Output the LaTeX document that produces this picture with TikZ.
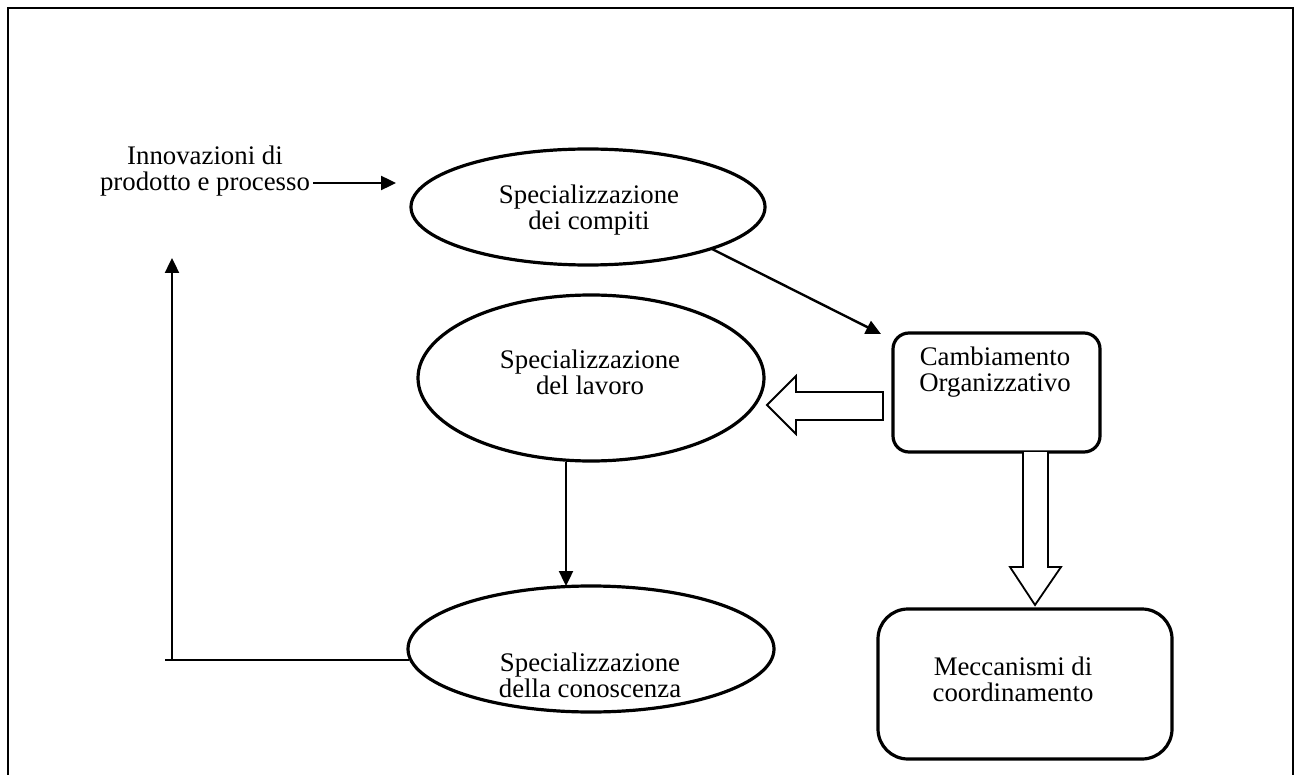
\documentclass[tikz,border=0pt]{standalone}
\usepackage{fontspec}
\setmainfont{Liberation Serif}
\usetikzlibrary{shapes.geometric,arrows.meta}
\begin{document}
\begin{tikzpicture}[x=0.5pt,y=-0.5pt,
  oval/.style={draw,ellipse,line width=1.6pt,inner sep=0pt},
  rbox/.style={draw,rectangle,line width=1.6pt,inner sep=0pt},
  lbl/.style={align=center,font=\fontsize{13.4}{13}\selectfont,inner sep=0pt},
  conn/.style={line width=1.2pt,-{Triangle[length=7.5pt,width=7pt]}},
  fat/.style={draw,line width=0.9pt,fill=white,line join=miter}]
\useasboundingbox (0,0) rectangle (1301,775);
% outer frame, open at the bottom
\draw[line width=1.2pt] (8,790) -- (8,8) -- (1293,8) -- (1293,790);

% ellipses
\node[oval,minimum width=177pt,minimum height=58pt] (e1) at (588,207) {};
\node[oval,minimum width=173pt,minimum height=83pt] (e2) at (591,378) {};
\node[oval,minimum width=183pt,minimum height=63pt] (e3) at (591,649) {};
% rounded boxes
\node[rbox,rounded corners=8pt,minimum width=103.5pt,minimum height=59.5pt] (b1) at (996.5,392.5) {};
\node[rbox,rounded corners=15pt,minimum width=147pt,minimum height=75pt] (b2) at (1025,684) {};

% labels
\node[lbl] (t1) at (589,210) {Specializzazione\\dei compiti};
\node[lbl] (t2) at (590,372) {Specializzazione\\del lavoro};
\node[lbl] (t3) at (590,675) {Specializzazione\\della conoscenza};
\node[lbl] (tb1) at (995,372) {Cambiamento\\Organizzativo};
\node[lbl] (tb2) at (1013,679) {Meccanismi di\\coordinamento};
\node[lbl] (innov) at (205,171) {Innovazioni di\\prodotto e processo};

% thin connectors
\coordinate (i0) at (313,183);
\coordinate (i1) at (396,183);
\draw[conn] (i0) -- (i1);
\coordinate (d0) at (712,249);
\coordinate (d1) at (881,334);
\draw[conn] (d0) -- (d1);
\coordinate (v0) at (566,462);
\coordinate (v1) at (566,586);
\draw[conn] (v0) -- (v1);
\coordinate (f0) at (409,660);
\coordinate (f1) at (172,660);
\coordinate (f2) at (172,258);
\draw[line width=1.2pt] (f0) -- (165,660);
\draw[conn] (f1) -- (f2);

% block arrows
\draw[fat] (883,392) -- (796,392) -- (796,376) -- (767,405) -- (796,434) -- (796,420) -- (883,420) -- cycle;
\draw[fat] (1023,452) -- (1023,567) -- (1010,567) -- (1035,605) -- (1061,567) -- (1048,567) -- (1048,452);
\end{tikzpicture}
\end{document}
